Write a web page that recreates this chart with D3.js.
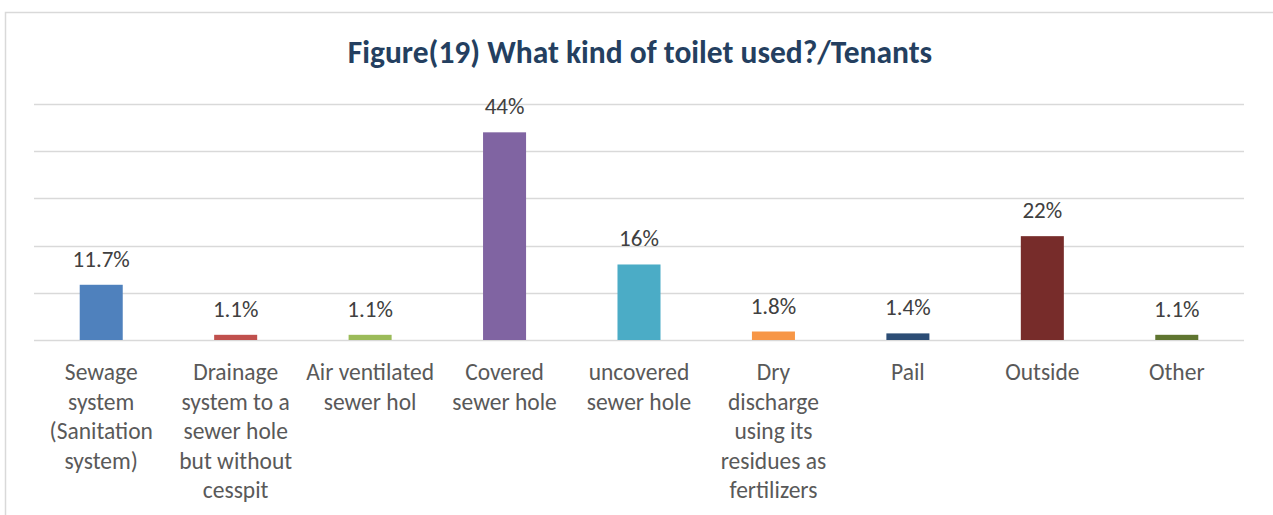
<!DOCTYPE html>
<html>
<head>
<meta charset="utf-8">
<script src="https://cdn.jsdelivr.net/npm/d3@7"></script>
<style>
  html, body { margin: 0; padding: 0; background: #fff; }
  svg { display: block; }
</style>
</head>
<body>
<svg id="chart" width="1273" height="515"></svg>
<script>
// Toilet type used by tenants (percent of households)
const categories = [
  "Sewage\nsystem\n(Sanitation\nsystem)",
  "Drainage\nsystem to a\nsewer hole\nbut without\ncesspit",
  "Air ventilated\nsewer hol",
  "Covered\nsewer hole",
  "uncovered\nsewer hole",
  "Dry\ndischarge\nusing its\nresidues as\nfertilizers",
  "Pail",
  "Outside",
  "Other"
];
const values = [11.7, 1.1, 1.1, 44, 16, 1.8, 1.4, 22, 1.1];
const valueLabels = ["11.7%", "1.1%", "1.1%", "44%", "16%", "1.8%", "1.4%", "22%", "1.1%"];
const barColors = ["#4F81BD", "#C0504D", "#9BBB59", "#8064A2", "#4BACC6", "#F79646", "#2C4D75", "#772C2A", "#5F7530"];
const gridTicks = [0, 10, 20, 30, 40, 50];
const title = "Figure(19) What kind of toilet used?/Tenants";

const svg = d3.select("#chart");
const font = "Calibri, Carlito, Lato, 'Open Sans', sans-serif";

// chart frame
svg.append("rect")
  .attr("x", 5.5).attr("y", 12.5)
  .attr("width", 1300).attr("height", 600)
  .attr("fill", "#fff")
  .attr("stroke", "#d9d9d9").attr("stroke-width", 1.5);

const x = d3.scaleBand()
  .domain(categories)
  .range([34, 1244])
  .paddingInner(0.68)
  .paddingOuter(0.34);

const y = d3.scaleLinear().domain([0, 50]).range([340, 104]);

// gridlines
svg.append("g").selectAll("line")
  .data(gridTicks)
  .join("line")
  .attr("x1", 34).attr("x2", 1244)
  .attr("y1", d => Math.round(y(d)) + 0.5)
  .attr("y2", d => Math.round(y(d)) + 0.5)
  .attr("stroke", "#d9d9d9")
  .attr("stroke-width", 1.5);

// bars
svg.append("g").selectAll("rect")
  .data(values)
  .join("rect")
  .attr("x", (d, i) => x(categories[i]))
  .attr("width", x.bandwidth())
  .attr("y", d => y(d))
  .attr("height", d => y(0) - y(d))
  .attr("fill", (d, i) => barColors[i]);

// value labels
svg.append("g").selectAll("text")
  .data(values)
  .join("text")
  .attr("x", (d, i) => x(categories[i]) + x.bandwidth() / 2)
  .attr("y", d => y(d) - 18)
  .attr("text-anchor", "middle")
  .attr("font-family", font)
  .attr("font-size", 23)
  .attr("fill", "#404040")
  .text((d, i) => valueLabels[i]);

// category labels
const catG = svg.append("g");
categories.forEach(c => {
  const t = catG.append("text")
    .attr("x", x(c) + x.bandwidth() / 2)
    .attr("y", 380)
    .attr("text-anchor", "middle")
    .attr("font-family", font)
    .attr("font-size", 23.5)
    .attr("fill", "#595959");
  c.split("\n").forEach((line, k) => {
    t.append("tspan")
      .attr("x", x(c) + x.bandwidth() / 2)
      .attr("y", 380 + k * 29.5)
      .text(line);
  });
});

// title
svg.append("text")
  .attr("x", 640)
  .attr("y", 63)
  .attr("text-anchor", "middle")
  .attr("font-family", font)
  .attr("font-weight", "bold")
  .attr("font-size", 31.5)
  .attr("fill", "#243F60")
  .text(title);
</script>
</body>
</html>
